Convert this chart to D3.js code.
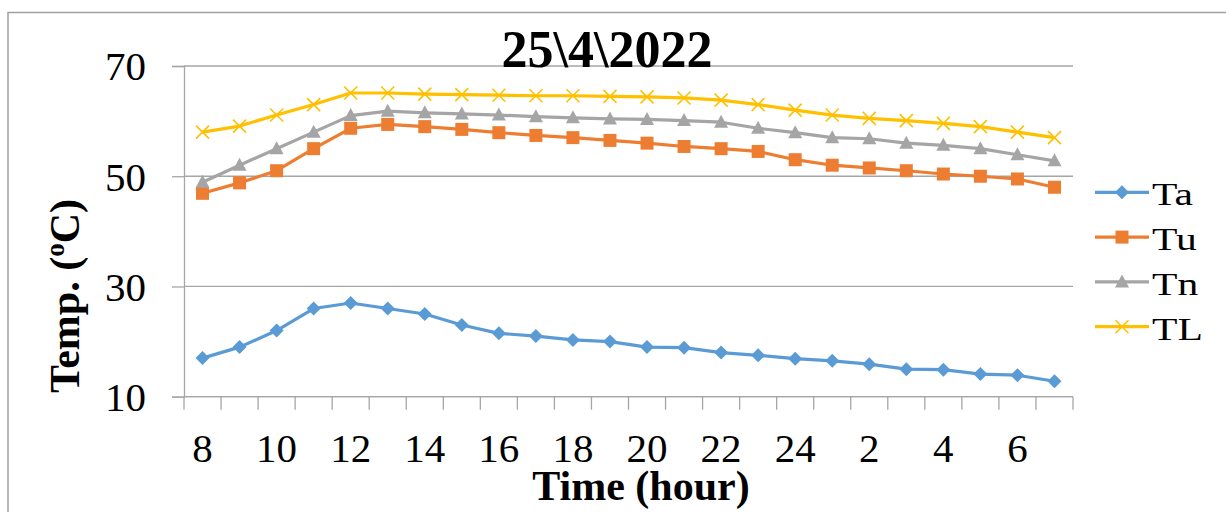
<!DOCTYPE html>
<html>
<head>
<meta charset="utf-8">
<script src="https://cdn.jsdelivr.net/npm/d3@7"></script>
<style>
  body { margin: 0; background: #fff; }
  svg { font-family: "Liberation Serif", "Times New Roman", serif; }
</style>
</head>
<body>
<div id="chart"></div>
<script>
// hours of the day, 8 am to 7 am next day
var hours = ["8","9","10","11","12","13","14","15","16","17","18","19","20","21","22","23","24","1","2","3","4","5","6","7"];
var hourLabels = ["8","10","12","14","16","18","20","22","24","2","4","6"];
var yTicks = [10, 30, 50, 70];

var ta = [17, 19, 22, 26, 27, 26, 25, 23, 21.5, 21, 20.3, 20, 19, 18.9, 18, 17.5, 16.9, 16.5, 15.9, 15, 14.9, 14.1, 13.9, 12.8];
var tu = [46.9, 48.8, 51, 55, 58.7, 59.4, 59, 58.5, 57.9, 57.4, 57, 56.5, 56, 55.4, 55, 54.5, 53, 52, 51.5, 51, 50.4, 50, 49.5, 48];
var tn = [48.9, 52, 55, 58, 61, 61.8, 61.5, 61.3, 61.1, 60.8, 60.6, 60.4, 60.3, 60.1, 59.8, 58.7, 57.9, 57, 56.8, 56, 55.6, 55, 53.9, 52.8];
var tl = [58, 59.1, 61.1, 63, 65.1, 65.1, 64.9, 64.8, 64.7, 64.6, 64.6, 64.5, 64.4, 64.2, 63.8, 63, 62, 61.1, 60.5, 60.1, 59.6, 59, 58, 57];

var series = [
  {name: "Ta", values: ta, color: "#5B9BD5", marker: "diamond"},
  {name: "Tu", values: tu, color: "#ED7D31", marker: "square"},
  {name: "Tn", values: tn, color: "#A5A5A5", marker: "triangle"},
  {name: "TL", values: tl, color: "#FFC000", marker: "cross"}
];

var width = 1226, height = 512;
var plotLeft = 184, plotRight = 1073, plotTop = 66, plotBottom = 396.7;

var svg = d3.select("#chart").append("svg")
  .attr("width", width)
  .attr("height", height);

// outer chart border (only left and top visible)
svg.append("rect")
  .attr("x", 8).attr("y", 12.5)
  .attr("width", 1300).attr("height", 600)
  .attr("fill", "none")
  .attr("stroke", "#a0a0a0")
  .attr("stroke-width", 1.5);

var x = d3.scaleBand().domain(hours).range([plotLeft, plotRight]).padding(0);
var y = d3.scaleLinear().domain([10, 70]).range([plotBottom, plotTop]);
function cx(d, i) { return x(hours[i]) + x.bandwidth() / 2; }

// gridlines
svg.append("g").selectAll("line")
  .data(yTicks)
  .enter().append("line")
  .attr("x1", plotLeft).attr("x2", plotRight)
  .attr("y1", function(d) { return y(d); })
  .attr("y2", function(d) { return y(d); })
  .attr("stroke", "#a6a6a6")
  .attr("stroke-width", 1.3);

// y axis
var yAxis = svg.append("g")
  .attr("transform", "translate(" + plotLeft + ",0)")
  .call(d3.axisLeft(y).tickValues(yTicks).tickSize(12).tickPadding(26).tickFormat(d3.format("d")));
yAxis.select(".domain").attr("stroke", "#a6a6a6").attr("stroke-width", 1.3);
yAxis.selectAll(".tick line").attr("stroke", "#a6a6a6").attr("stroke-width", 1.3);
yAxis.selectAll("text")
  .attr("font-family", "Liberation Serif, Times New Roman, serif")
  .attr("font-size", 41)
  .attr("fill", "#000")
  .attr("dy", "0.34em");

// x axis
svg.append("line")
  .attr("x1", plotLeft).attr("x2", plotRight)
  .attr("y1", plotBottom).attr("y2", plotBottom)
  .attr("stroke", "#a6a6a6").attr("stroke-width", 1.3);
svg.append("g").selectAll("line")
  .data(hours.concat(["end"]))
  .enter().append("line")
  .attr("x1", function(d) { return d == "end" ? plotRight : x(d); })
  .attr("x2", function(d) { return d == "end" ? plotRight : x(d); })
  .attr("y1", plotBottom).attr("y2", plotBottom + 13)
  .attr("stroke", "#a6a6a6").attr("stroke-width", 1.3);
svg.append("g").selectAll("text")
  .data(hourLabels)
  .enter().append("text")
  .attr("x", function(d) { return x(d) + x.bandwidth() / 2; })
  .attr("y", plotBottom + 65)
  .attr("text-anchor", "middle")
  .attr("font-size", 41)
  .text(function(d) { return d; });

// marker shapes
function markerPath(type) {
  if (type == "diamond") return "M0,-7L7,0L0,7L-7,0Z";
  if (type == "square") return "M-6.5,-6.5H6.5V6.5H-6.5Z";
  if (type == "triangle") return "M0,-7.5L7,5.5L-7,5.5Z";
  return "M-6.5,-6.5L6.5,6.5M6.5,-6.5L-6.5,6.5";
}
function drawMarker(sel, s) {
  sel.attr("d", markerPath(s.marker))
    .attr("fill", s.marker == "cross" ? "none" : s.color)
    .attr("stroke", s.color)
    .attr("stroke-width", s.marker == "cross" ? 1.6 : 0);
}

var line = d3.line()
  .x(cx)
  .y(function(d) { return y(d); });

series.forEach(function(s) {
  var g = svg.append("g");
  g.append("path")
    .datum(s.values)
    .attr("d", line)
    .attr("fill", "none")
    .attr("stroke", s.color)
    .attr("stroke-width", 3.2)
    .attr("stroke-linejoin", "round");
  g.selectAll("path.m")
    .data(s.values)
    .enter().append("path")
    .attr("class", "m")
    .attr("transform", function(d, i) { return "translate(" + cx(d, i) + "," + y(d) + ")"; })
    .call(drawMarker, s);
});

// title
svg.append("text")
  .attr("x", 607).attr("y", 67)
  .attr("text-anchor", "middle")
  .attr("font-size", 52)
  .attr("font-weight", "bold")
  .text("25\\4\\2022");

// axis titles
svg.append("text")
  .attr("x", 641).attr("y", 500)
  .attr("text-anchor", "middle")
  .attr("font-size", 42)
  .attr("font-weight", "bold")
  .text("Time (hour)");

var yt = svg.append("text")
  .attr("transform", "translate(79,296) rotate(-90)")
  .attr("text-anchor", "middle")
  .attr("font-size", 42)
  .attr("font-weight", "bold");
yt.append("tspan").text("Temp. (");
yt.append("tspan").attr("font-size", 27).attr("dy", -15).text("o");
yt.append("tspan").attr("dy", 15).text("C)");

// legend
var legend = svg.append("g").selectAll("g")
  .data(series)
  .enter().append("g")
  .attr("transform", function(d, i) { return "translate(1095," + (192.3 + i * 44.8) + ")"; });
legend.append("line")
  .attr("x1", 0).attr("x2", 54)
  .attr("stroke", function(d) { return d.color; })
  .attr("stroke-width", 3.2);
legend.append("path")
  .attr("transform", "translate(27,0)")
  .each(function(d) { d3.select(this).call(drawMarker, d); });
legend.append("text")
  .attr("transform", "translate(57,13) scale(1.3,1)")
  .attr("font-size", 32)
  .text(function(d) { return d.name; });
</script>
</body>
</html>
